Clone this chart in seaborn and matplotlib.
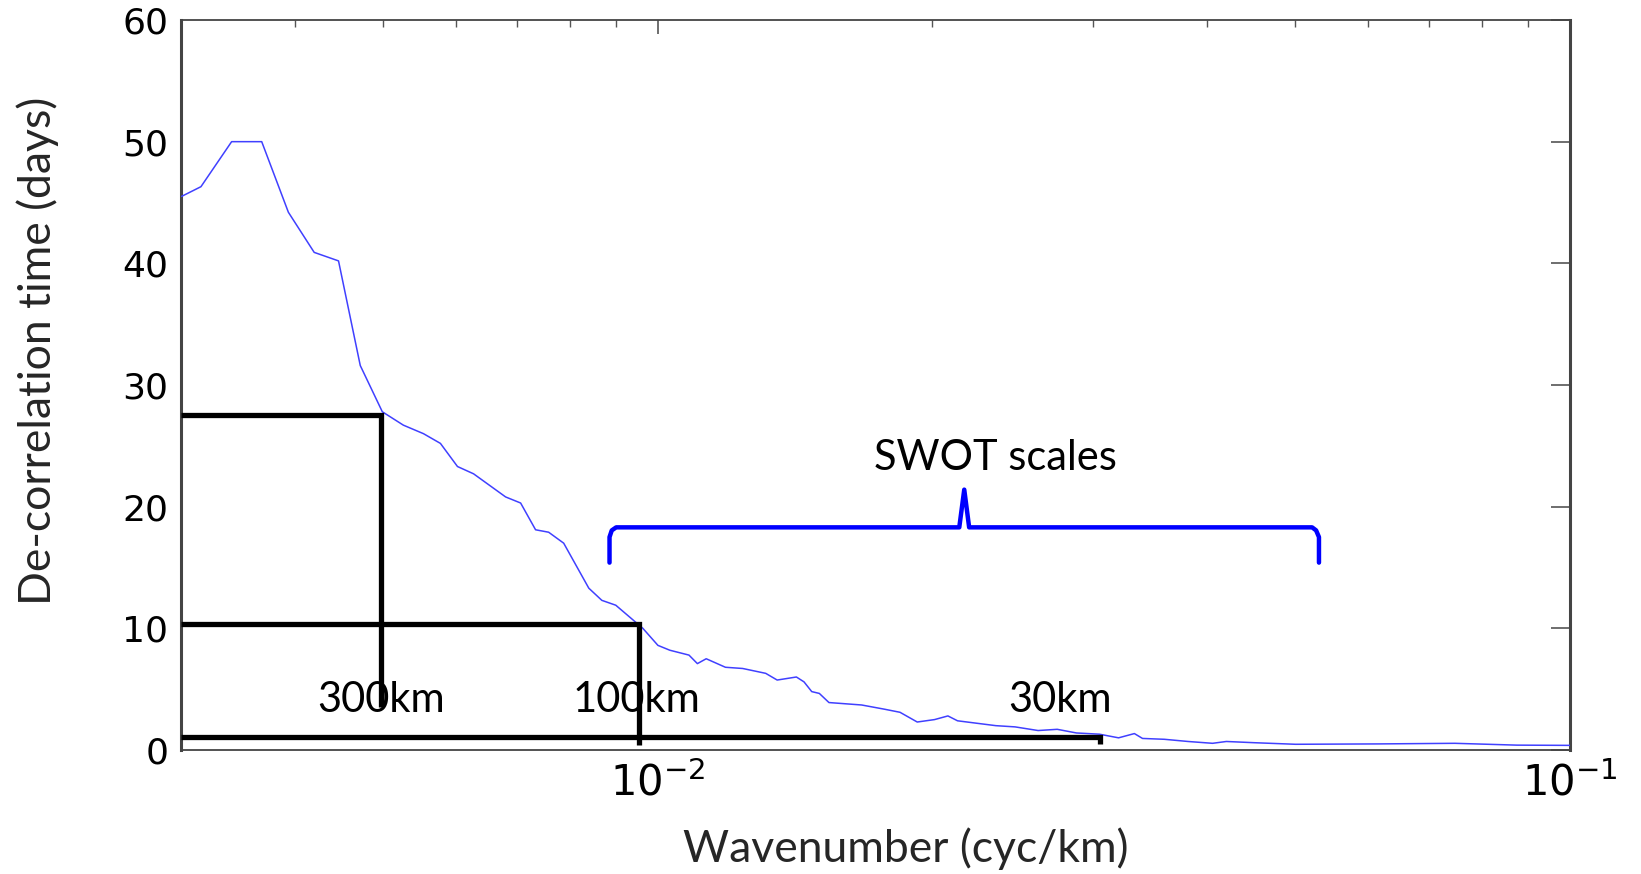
import matplotlib
matplotlib.use("Agg")
import matplotlib.pyplot as plt
import seaborn as sns
import pandas as pd
from matplotlib.ticker import LogLocator, NullLocator, FixedLocator

# ---------------- data ----------------
wavenumber = [0.003004, 0.003155, 0.003409, 0.003678, 0.003934, 0.004199, 0.004465,
              0.004717, 0.004987, 0.005259, 0.005533, 0.005775, 0.006029, 0.006279,
              0.006808, 0.007071, 0.007343, 0.007589, 0.007883, 0.008399, 0.008680,
              0.008991, 0.009627, 0.010000, 0.010306, 0.010816, 0.011048, 0.011297,
              0.011858, 0.012386, 0.013128, 0.013513, 0.014185, 0.014460, 0.014745,
              0.015031, 0.015400, 0.016724, 0.017725, 0.018425, 0.019245, 0.020106,
              0.020795, 0.021306, 0.022360, 0.023472, 0.024635, 0.026111, 0.027404,
              0.028768, 0.030483, 0.031992, 0.033297, 0.033987, 0.035914, 0.038130,
              0.040560, 0.042000, 0.045047, 0.050017, 0.061672, 0.074766, 0.087444,
              0.100000]
decorrelation_days = [45.5, 46.3, 50.0, 50.0, 44.2, 40.9, 40.2,
                      31.6, 27.8, 26.7, 26.0, 25.2, 23.3, 22.7,
                      20.8, 20.3, 18.1, 17.9, 17.0, 13.3, 12.3,
                      11.9, 10.0, 8.6, 8.2, 7.8, 7.1, 7.5,
                      6.8, 6.7, 6.3, 5.75, 6.0, 5.6, 4.8,
                      4.65, 3.9, 3.7, 3.35, 3.1, 2.3, 2.5,
                      2.8, 2.4, 2.2, 2.0, 1.9, 1.6, 1.7,
                      1.4, 1.3, 1.0, 1.35, 0.95, 0.88, 0.7,
                      0.55, 0.7, 0.6, 0.47, 0.5, 0.55, 0.4,
                      0.38]

x_limits = [0.003, 0.1]
y_limits = [0, 60]
y_ticks = [0, 10, 20, 30, 40, 50, 60]

# scale guide lines (wavenumber, days)
guide_300_x = [0.003, 0.00497, 0.00497]
guide_300_y = [27.5, 27.5, 3.5]
guide_100_x = [0.003, 0.00953, 0.00953]
guide_100_y = [10.35, 10.35, 0.4]
guide_30_x = [0.003, 0.0305, 0.0305]
guide_30_y = [1.07, 1.07, 0.5]

guide_labels = ["300km", "100km", "30km"]
guide_label_x = [0.00497, 0.00948, 0.02759]
guide_label_y = [3.15, 3.15, 3.15]

# SWOT brace
brace_x = [0.00885, 0.00885, 0.00890, 0.00900, 0.02140, 0.02167, 0.02194,
           0.05215, 0.05268, 0.05306, 0.05306]
brace_y = [15.4, 17.5, 18.05, 18.3, 18.3, 21.4, 18.3, 18.3, 18.05, 17.5, 15.4]
brace_label = "SWOT scales"
brace_label_x = 0.02343
brace_label_y = 23.0

# ---------------- figure ----------------
sns.set_style("white")
plt.rcParams["font.family"] = ["Lato", "DejaVu Sans"]
plt.rcParams["mathtext.fontset"] = "dejavusans"

fig = plt.figure(figsize=(16.41, 8.74), dpi=100)
ax = fig.add_axes([181 / 1641, 1 - 750 / 874, 1389 / 1641, 730 / 874])

df = pd.DataFrame({"k": wavenumber, "t": decorrelation_days})
sns.lineplot(data=df, x="k", y="t", ax=ax, color="#4040ff", linewidth=1.1,
             sort=False, zorder=3)

ax.set_xscale("log")
ax.set_xlim(x_limits)
ax.set_ylim(y_limits)

for gx, gy in [(guide_300_x, guide_300_y), (guide_100_x, guide_100_y),
               (guide_30_x, guide_30_y)]:
    ax.plot(gx, gy, color="black", linewidth=3.8, solid_joinstyle="miter",
            solid_capstyle="butt", zorder=4, clip_on=False)

for lab, lx, ly in zip(guide_labels, guide_label_x, guide_label_y):
    ax.text(lx, ly, lab, ha="center", va="baseline", fontsize=30,
            family="Lato", color="black", zorder=5)

ax.plot(brace_x, brace_y, color="#0000ff", linewidth=3.2, zorder=4,
        solid_joinstyle="round")
ax.text(brace_label_x, brace_label_y, brace_label, ha="center", va="baseline",
        fontsize=30, family="Lato", color="black")

# axes styling
ax.yaxis.set_major_locator(FixedLocator(y_ticks))
ax.yaxis.set_minor_locator(NullLocator())
ax.xaxis.set_major_locator(LogLocator(base=10))
ax.xaxis.set_minor_locator(LogLocator(base=10, subs=[2, 3, 4, 5, 6, 7, 8, 9]))

ax.tick_params(axis="both", which="both", direction="in", top=True, right=True,
               colors="#555555", labelcolor="black")
ax.tick_params(axis="y", which="major", length=14, width=1.2, labelsize=26, pad=9)
ax.tick_params(axis="x", which="major", length=10, width=1.2, labelsize=30, pad=9)
ax.tick_params(axis="x", which="minor", length=5, width=1.0)
for t in ax.get_yticklabels() + ax.get_xticklabels():
    t.set_family("DejaVu Sans")

for side, sp in ax.spines.items():
    sp.set_visible(True)
    sp.set_color("#444444")
    sp.set_linewidth(2.2 if side in ("left", "right") else 1.3)

ax.set_xlabel("Wavenumber (cyc/km)", fontsize=32, family="Lato")
ax.set_ylabel("De-correlation time (days)", fontsize=32, family="Lato")
ax.xaxis.set_label_coords(0.522, -0.135)
ax.yaxis.set_label_coords(-0.103, 0.547)
ax.xaxis.label.set_va("center")
ax.yaxis.label.set_va("center")

fig.savefig("out.png", dpi=100, facecolor="white")
